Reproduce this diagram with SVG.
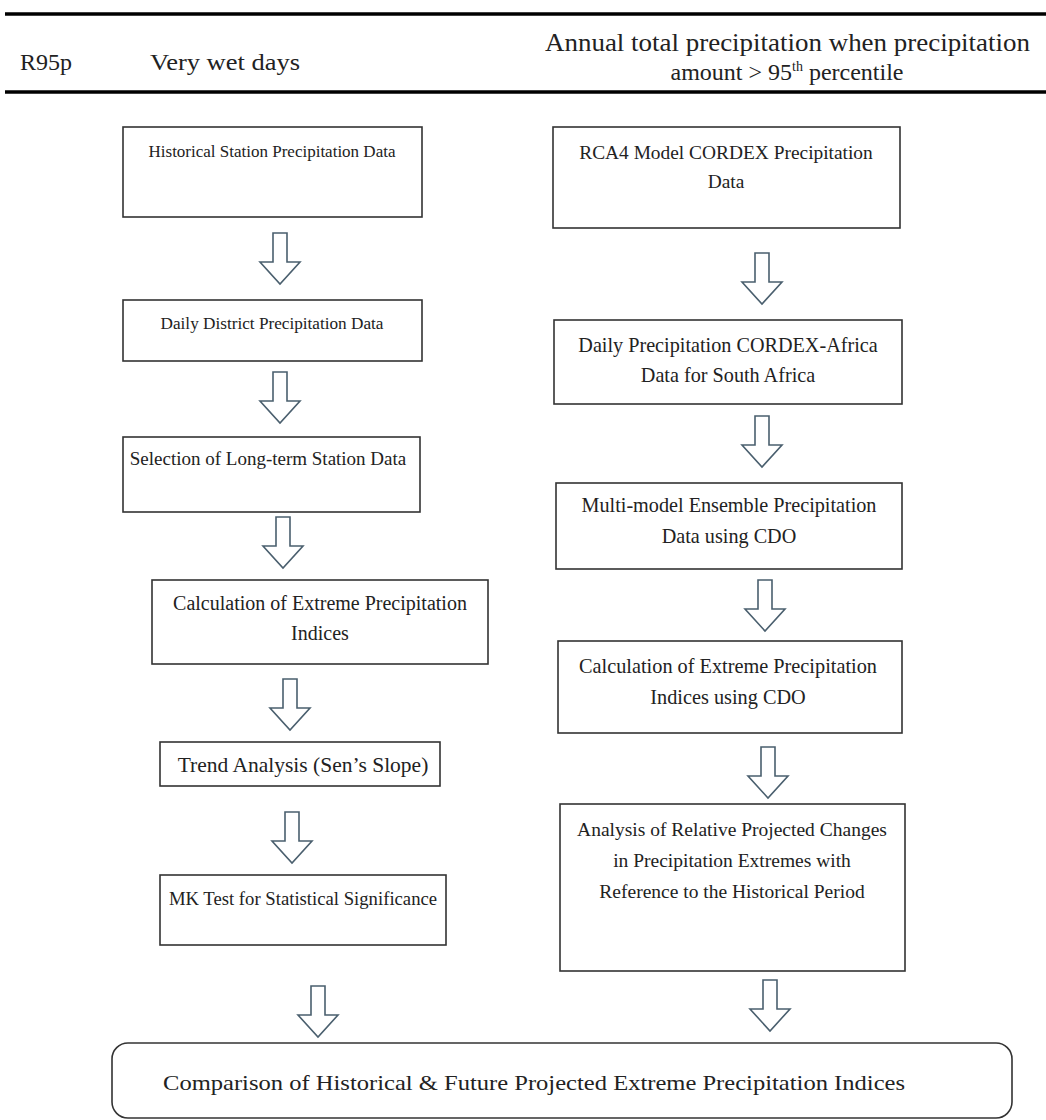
<svg xmlns="http://www.w3.org/2000/svg" xmlns:xlink="http://www.w3.org/1999/xlink" width="1046" height="1120" viewBox="0 0 1046 1120">
<style>
.box{fill:#fff;stroke:#333;stroke-width:1.6}
.t{font-family:"Liberation Serif","DejaVu Serif",serif;font-size:18px;fill:#222;text-anchor:middle}
.h{font-family:"Liberation Serif","DejaVu Serif",serif;font-size:24px;fill:#222}
.rule{stroke:#000;stroke-width:3.5}
.arr{fill:#fff;stroke:#4a5f6e;stroke-width:1.6;stroke-linejoin:miter}
</style>
<defs>
<path id="a" class="arr" d="M-7,0 H7 V29 H20 L0,51 L-20,29 H-7 Z"/>
</defs>
<rect width="1046" height="1120" fill="#fff"/>
<g id="header">
<line class="rule" x1="5" y1="14" x2="1046" y2="14"/>
<line class="rule" x1="5" y1="92" x2="1046" y2="92"/>
<text class="h" x="20" y="70">R95p</text>
<text class="h" x="150" y="70" textLength="150" lengthAdjust="spacingAndGlyphs">Very wet days</text>
<text class="h" style="font-size:25px" x="545" y="51" textLength="485" lengthAdjust="spacingAndGlyphs">Annual total precipitation when precipitation</text>
<text class="h" x="787" y="80" text-anchor="middle">amount &gt; 95<tspan font-size="14" dy="-9">th</tspan><tspan dy="9"> percentile</tspan></text>
</g>
<g id="connectors">
<use xlink:href="#a" href="#a" x="280" y="233"/>
<use xlink:href="#a" href="#a" x="280" y="372"/>
<use xlink:href="#a" href="#a" x="283" y="517"/>
<use xlink:href="#a" href="#a" x="290" y="679"/>
<use xlink:href="#a" href="#a" x="292" y="812"/>
<use xlink:href="#a" href="#a" x="318" y="986"/>
<use xlink:href="#a" href="#a" x="762" y="253"/>
<use xlink:href="#a" href="#a" x="762" y="416"/>
<use xlink:href="#a" href="#a" x="765" y="580"/>
<use xlink:href="#a" href="#a" x="768" y="747"/>
<use xlink:href="#a" href="#a" x="770" y="980"/>
</g>
<g id="n1"><rect class="box" x="123" y="127" width="299" height="90"/><text class="t" style="font-size:17px" x="272" y="157">Historical Station Precipitation Data</text></g>
<g id="n2"><rect class="box" x="123" y="300" width="299" height="61"/><text class="t" style="font-size:17.2px" x="272" y="329">Daily District Precipitation Data</text></g>
<g id="n3"><rect class="box" x="123" y="437" width="297" height="75"/><text class="t" style="font-size:19px" x="268" y="465">Selection of Long-term Station Data</text></g>
<g id="n4"><rect class="box" x="152" y="580" width="336" height="84"/><text class="t" style="font-size:20px" x="320" y="610">Calculation of Extreme Precipitation</text><text class="t" style="font-size:20px" x="320" y="640">Indices</text></g>
<g id="n5"><rect class="box" x="160" y="742" width="280" height="44"/><text class="t" style="font-size:21.5px" x="303" y="772">Trend Analysis (Sen’s Slope)</text></g>
<g id="n6"><rect class="box" x="160" y="875" width="286" height="70"/><text class="t" style="font-size:18.7px" x="303" y="905">MK Test for Statistical Significance</text></g>
<g id="r1"><rect class="box" x="553" y="127" width="347" height="101"/><text class="t" style="font-size:19.4px" x="726" y="159">RCA4 Model CORDEX Precipitation</text><text class="t" style="font-size:19.4px" x="726" y="188">Data</text></g>
<g id="r2"><rect class="box" x="554" y="320" width="348" height="84"/><text class="t" style="font-size:20.2px" x="728" y="352">Daily Precipitation CORDEX-Africa</text><text class="t" style="font-size:20.2px" x="728" y="382">Data for South Africa</text></g>
<g id="r3"><rect class="box" x="556" y="483" width="346" height="86"/><text class="t" style="font-size:20.2px" x="729" y="512">Multi-model Ensemble Precipitation</text><text class="t" style="font-size:20.2px" x="729" y="543">Data using CDO</text></g>
<g id="r4"><rect class="box" x="558" y="641" width="344" height="92"/><text class="t" style="font-size:20.3px" x="728" y="673">Calculation of Extreme Precipitation</text><text class="t" style="font-size:20.3px" x="728" y="704">Indices using CDO</text></g>
<g id="r5"><rect class="box" x="560" y="804" width="345" height="167"/><text class="t" style="font-size:19.5px" x="732" y="836">Analysis of Relative Projected Changes</text><text class="t" style="font-size:19.5px" x="732" y="867">in Precipitation Extremes with</text><text class="t" style="font-size:19.5px" x="732" y="898">Reference to the Historical Period</text></g>
<g id="final"><rect class="box" x="112" y="1043" width="900" height="75" rx="16"/><text class="t" style="font-size:21px;text-anchor:start" x="163" y="1090" textLength="742" lengthAdjust="spacingAndGlyphs">Comparison of Historical &amp; Future Projected Extreme Precipitation Indices</text></g>
</svg>
